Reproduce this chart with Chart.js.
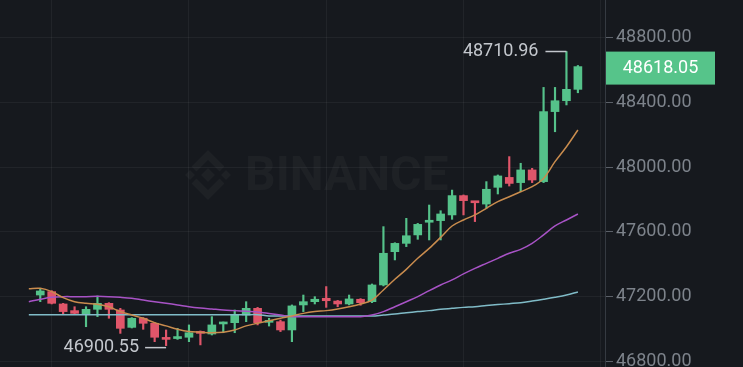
<!DOCTYPE html>
<html>
<head>
<meta charset="utf-8">
<script src="https://cdn.jsdelivr.net/npm/chart.js@4"></script>
<style>
html, body { margin: 0; padding: 0; background: #16191e; }
#wrap { width: 743px; height: 367px; }
</style>
</head>
<body>
<div id="wrap"><canvas id="myChart" width="743" height="367"></canvas></div>
<script>
// candle data, index 0 is the partly hidden candle at the left edge (only MAs shown)
const opens  = [null, 47212, 47233, 47157, 47116, 47095, 47124, 47161, 47120, 47013, 47069, 47038, 46950, 46944, 46952, 46987, 46972, 47034, 47042, 47089, 47130, 47044, 47048, 46997, 47151, 47171, 47192, 47175, 47157, 47186, 47171, 47274, 47479, 47530, 47582, 47660, 47670, 47705, 47824, 47789, 47772, 47875, 47936, 47904, 47982, 47910, 48341, 48408, 48478]
const highs  = [null, 47253, 47239, 47161, 47140, 47140, 47206, 47165, 47130, 47073, 47073, 47042, 46997, 47007, 47028, 46991, 47079, 47046, 47120, 47171, 47136, 47069, 47058, 47151, 47212, 47202, 47264, 47179, 47212, 47190, 47280, 47633, 47534, 47684, 47653, 47766, 47731, 47858, 47828, 47789, 47910, 47951, 48064, 48023, 47992, 48490, 48490, 48710.96, 48625]
const lows   = [null, 47171, 47157, 47095, 47095, 47017, 47079, 47069, 46976, 47009, 47001, 46925, 46900.55, 46939, 46925, 46905, 46966, 46980, 46980, 47048, 47028, 47021, 46987, 46925, 47110, 47157, 47136, 47140, 47151, 47149, 47165, 47268, 47428, 47510, 47555, 47551, 47551, 47678, 47705, 47664, 47746, 47834, 47883, 47848, 47904, 47904, 48217, 48382, 48457]
const closes = [null, 47237, 47161, 47110, 47099, 47124, 47161, 47124, 47007, 47069, 47038, 46952, 46939, 46950, 46980, 46976, 47028, 47042, 47089, 47130, 47042, 47050, 46997, 47145, 47171, 47186, 47177, 47157, 47188, 47165, 47274, 47469, 47530, 47577, 47647, 47668, 47711, 47824, 47793, 47780, 47863, 47945, 47899, 47982, 47920, 48341, 48408, 48478, 48618.05]

const ma7  = [47251, 47253, 47233, 47196, 47171, 47161, 47155, 47140, 47110, 47089, 47069, 47042, 47022, 47001, 46987, 46983, 46980, 46983, 46997, 47022, 47038, 47054, 47069, 47083, 47099, 47110, 47116, 47126, 47140, 47157, 47181, 47243, 47309, 47370, 47438, 47499, 47567, 47637, 47674, 47705, 47746, 47787, 47817, 47848, 47879, 47930, 48033, 48125, 48228]
const ma25 = [47171, 47186, 47198, 47202, 47202, 47202, 47204, 47202, 47198, 47192, 47181, 47171, 47161, 47151, 47140, 47132, 47126, 47120, 47116, 47112, 47108, 47099, 47089, 47079, 47079, 47079, 47079, 47079, 47079, 47079, 47089, 47110, 47140, 47171, 47202, 47239, 47274, 47305, 47342, 47376, 47407, 47438, 47469, 47493, 47530, 47582, 47637, 47674, 47711]
const ma99 = [47091, 47091, 47091, 47091, 47091, 47091, 47091, 47091, 47091, 47091, 47091, 47091, 47091, 47091, 47091, 47091, 47091, 47091, 47091, 47091, 47091, 47083, 47083, 47083, 47083, 47083, 47083, 47083, 47083, 47083, 47083, 47089, 47095, 47103, 47110, 47116, 47124, 47130, 47136, 47140, 47147, 47153, 47159, 47165, 47175, 47186, 47198, 47212, 47231]

const yTicks = [46800, 47200, 47600, 48000, 48400, 48800]
const xGrid = [2, 14, 26, 38, 50]

const up = '#55c28a'
const down = '#e0566a'
const bg = '#16191e'

const wicks = []
const bodies = []
const barColors = []
for (let i = 0; i < opens.length; i++) {
    if (opens[i] == null) continue
    wicks.push({x: i, y: [lows[i], highs[i]]})
    bodies.push({x: i, y: [opens[i], closes[i]]})
    barColors.push(closes[i] >= opens[i] ? up : down)
}
const line = arr => arr.map((v, i) => ({x: i, y: v}))

const font = 'Roboto'

const extras = {
    id: 'extras',
    beforeDraw(chart) {
        const ctx = chart.ctx
        ctx.save()
        ctx.fillStyle = bg
        ctx.fillRect(0, 0, chart.width, chart.height)
        ctx.restore()
    },
    beforeDatasetsDraw(chart) {
        // watermark
        const ctx = chart.ctx
        ctx.save()
        ctx.fillStyle = 'rgba(255,255,255,0.035)'
        ctx.strokeStyle = 'rgba(255,255,255,0.035)'
        const cx = 208, cy = 175
        const dia = (x, y, r) => {
            ctx.beginPath()
            ctx.moveTo(x, y - r); ctx.lineTo(x + r, y); ctx.lineTo(x, y + r); ctx.lineTo(x - r, y)
            ctx.closePath(); ctx.fill()
        }
        dia(cx, cy, 7)
        dia(cx - 18, cy, 5)
        dia(cx + 18, cy, 5)
        ctx.lineWidth = 7
        ctx.beginPath()
        ctx.moveTo(cx - 14, cy - 6); ctx.lineTo(cx, cy - 20); ctx.lineTo(cx + 14, cy - 6)
        ctx.moveTo(cx - 14, cy + 6); ctx.lineTo(cx, cy + 20); ctx.lineTo(cx + 14, cy + 6)
        ctx.stroke()
        ctx.font = 'bold 48px ' + font
        ctx.textBaseline = 'middle'
        ctx.textAlign = 'left'
        ctx.fillText('BINANCE', 245, 178)
        ctx.restore()
    },
    afterDraw(chart) {
        const ctx = chart.ctx
        const xs = chart.scales.x, ys = chart.scales.y
        ctx.save()
        ctx.font = '18px ' + font
        ctx.textBaseline = 'middle'
        ctx.fillStyle = '#c3c7cd'
        ctx.strokeStyle = '#c3c7cd'
        ctx.lineWidth = 1.5

        // highest high and lowest low markers
        let hi = 1, lo = 1
        for (let i = 1; i < highs.length; i++) {
            if (highs[i] > highs[hi]) hi = i
            if (lows[i] < lows[lo]) lo = i
        }
        let px = xs.getPixelForValue(hi), py = ys.getPixelForValue(highs[hi])
        ctx.beginPath(); ctx.moveTo(px, py); ctx.lineTo(px - 21, py); ctx.stroke()
        ctx.textAlign = 'right'
        ctx.fillText(highs[hi].toFixed(2), px - 28, py)

        px = xs.getPixelForValue(lo); py = ys.getPixelForValue(lows[lo])
        ctx.beginPath(); ctx.moveTo(px, py + 2); ctx.lineTo(px - 21, py + 2); ctx.stroke()
        ctx.fillText(lows[lo].toFixed(2), px - 27, py + 2)

        // last price tag
        const last = closes[closes.length - 1]
        const ly = ys.getPixelForValue(last)
        const left = chart.chartArea.right + 1
        ctx.fillStyle = '#56c48a'
        ctx.fillRect(left, ly - 15, 109, 33)
        ctx.fillStyle = '#ffffff'
        ctx.textAlign = 'center'
        ctx.fillText(last.toFixed(2), left + 54.5, ly + 2)
        ctx.restore()
    }
}

new Chart('myChart', {
    type: 'bar',
    data: {
        datasets: [
            {type: 'line', data: line(ma7), borderColor: '#c98c4e', borderWidth: 1.5, pointRadius: 0, tension: 0.35, order: 0},
            {type: 'line', data: line(ma25), borderColor: '#a853c6', borderWidth: 1.5, pointRadius: 0, tension: 0.35, order: 0},
            {type: 'line', data: line(ma99), borderColor: '#80bcc8', borderWidth: 1.5, pointRadius: 0, tension: 0.35, order: 0},
            {data: bodies, backgroundColor: barColors, barThickness: 8, minBarLength: 2, grouped: false, order: 1},
            {data: wicks, backgroundColor: barColors, barThickness: 1.5, grouped: false, order: 2}
        ]
    },
    options: {
        responsive: false,
        animation: false,
        events: [],
        layout: {padding: 0},
        plugins: {legend: {display: false}, tooltip: {enabled: false}},
        scales: {
            x: {
                type: 'linear',
                min: -2.52,
                max: 50.37,
                offset: false,
                afterBuildTicks: s => { s.ticks = xGrid.map(v => ({value: v})) },
                ticks: {display: false},
                grid: {color: 'rgba(255,255,255,0.05)', drawTicks: false, offset: false},
                border: {display: false}
            },
            y: {
                position: 'right',
                min: 46769,
                max: 49028,
                afterBuildTicks: s => { s.ticks = yTicks.map(v => ({value: v})) },
                afterFit: s => { s.width = 138; s.paddingTop = 0; s.paddingBottom = 0 },
                ticks: {
                    color: '#7d838b',
                    padding: 3,
                    font: {family: font, size: 18},
                    callback: v => Number(v).toFixed(2)
                },
                grid: {color: 'rgba(255,255,255,0.05)', tickColor: '#5b6068', tickLength: 8},
                border: {color: '#353a41', width: 1}
            }
        }
    },
    plugins: [extras]
})
</script>
</body>
</html>
